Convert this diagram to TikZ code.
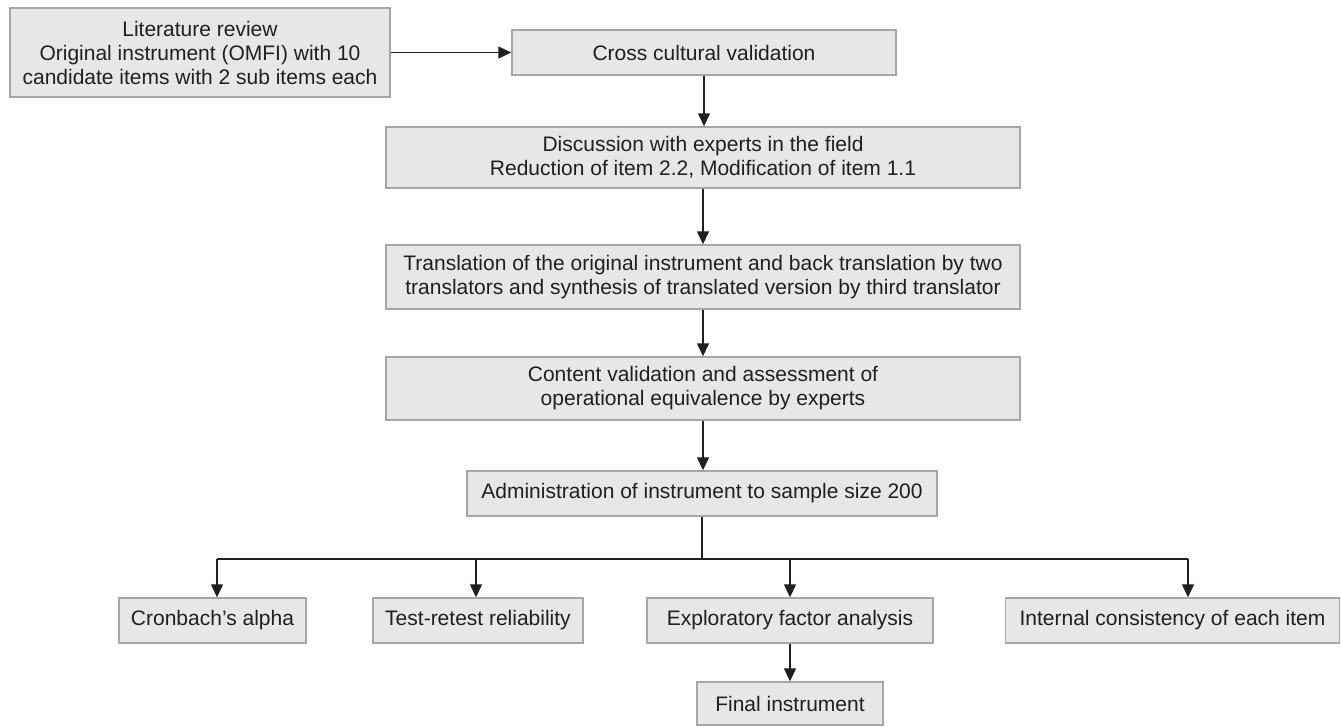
\documentclass[tikz,border=0pt]{standalone}
\usepackage{fontspec}
\setmainfont{Liberation Sans}
\usetikzlibrary{arrows.meta}
\definecolor{boxfill}{RGB}{230,231,232}
\definecolor{boxline}{RGB}{165,166,168}
\definecolor{textc}{RGB}{35,31,32}
\begin{document}
\begin{tikzpicture}[x=1pt,y=-1pt,
  box/.style={draw=boxline, fill=boxfill, line width=1.4pt, inner sep=0pt, align=center,
    font=\fontsize{21}{24}\selectfont, text=textc},
  arr/.style={draw=textc, line width=1.3pt, -{Triangle[length=13pt,width=12pt]}},
  ln/.style={draw=textc, line width=1.3pt}]
\useasboundingbox (0,0) rectangle (1341,726);
\node[box, minimum width=380pt, minimum height=89pt] (lit) at (200,52.5)
  {Literature review\\Original instrument (OMFI) with 10\\candidate items with 2 sub items each};
\node[box, minimum width=384pt, minimum height=45pt] (cross) at (704,52.5) {Cross cultural validation};
\node[box, minimum width=634pt, minimum height=61pt] (disc) at (703,157.5)
  {Discussion with experts in the field\\Reduction of item 2.2, Modification of item 1.1};
\node[box, minimum width=634pt, minimum height=64pt] (trans) at (703,277)
  {Translation of the original instrument and back translation by two\\translators and synthesis of translated version by third translator};
\node[box, minimum width=634pt, minimum height=63pt] (cont) at (703,388.5)
  {Content validation and assessment of\\operational equivalence by experts};
\node[box, minimum width=470pt, minimum height=45pt] (admin) at (702,493.5)
  {Administration of instrument to sample size 200};
\node[box, minimum width=187pt, minimum height=45pt] (cron) at (212.5,620.5) {Cronbach’s alpha};
\node[box, minimum width=210pt, minimum height=45pt] (test) at (478,620.5) {Test-retest reliability};
\node[box, minimum width=286pt, minimum height=45pt] (expl) at (790,620.5) {Exploratory factor analysis};
\node[box, minimum width=334pt, minimum height=45pt] (intl) at (1172.5,620.5) {Internal consistency of each item};
\node[box, minimum width=186pt, minimum height=43pt] (final) at (790,703.5) {Final instrument};
\coordinate (br) at (702,559);
\coordinate (b1) at (217,559);
\coordinate (b2) at (476,559);
\coordinate (b3) at (790,559);
\coordinate (b4) at (1188,559);
\draw[arr] (lit.east) -- (cross.west);
\draw[arr] (cross.south) -- (cross.south |- disc.north);
\draw[arr] (disc.south) -- (disc.south |- trans.north);
\draw[arr] (trans.south) -- (trans.south |- cont.north);
\draw[arr] (cont.south) -- (cont.south |- admin.north);
\draw[ln] (admin.south) -- (br);
\draw[ln] (b1) -- (b4);
\draw[arr] (b1) -- (b1 |- cron.north);
\draw[arr] (b2) -- (b2 |- test.north);
\draw[arr] (b3) -- (b3 |- expl.north);
\draw[arr] (b4) -- (b4 |- intl.north);
\draw[arr] (expl.south) -- (final.north);
\end{tikzpicture}
\end{document}
